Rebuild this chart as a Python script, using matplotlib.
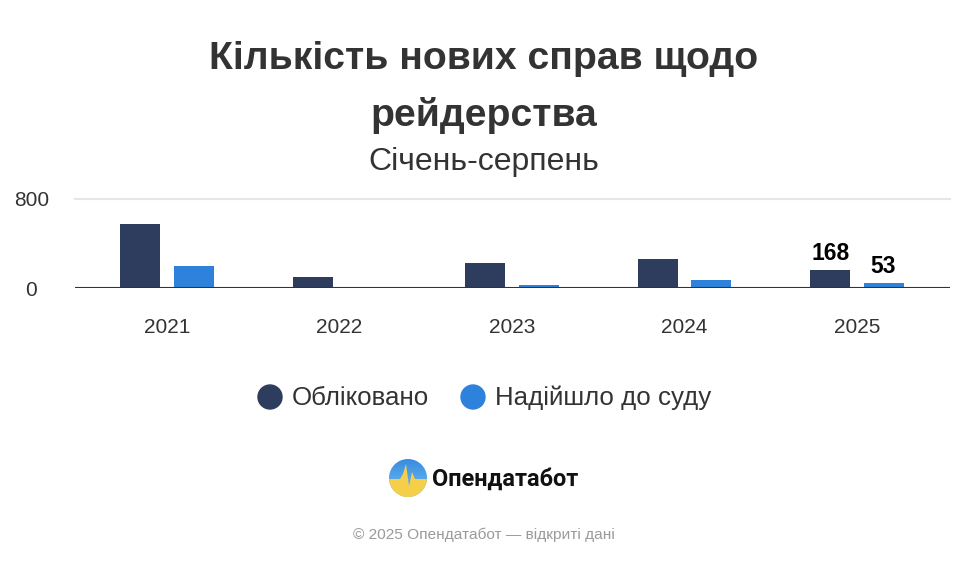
import numpy as np
import matplotlib.pyplot as plt
from matplotlib.patches import Circle, Polygon

plt.rcParams['font.family'] = ['Liberation Sans', 'DejaVu Sans']

years = ["2021", "2022", "2023", "2024", "2025"]
registered = [576, 104, 232, 265, 168]
to_court = [200, 0, 33, 78, 53]
series_names = ["Обліковано", "Надійшло до суду"]
colors = ["#2e3c5e", "#2e82dc"]
yticks = [0, 800]

W, H = 967, 564
fig = plt.figure(figsize=(W / 100, H / 100), dpi=100)

# plot area in pixels: x 75..950, zero at y=288.5, 800 at y=199
ax = fig.add_axes([75 / W, 1 - 288.5 / H, 875 / W, 89.5 / H])
x = np.arange(len(years))
bw, off = 0.232, 0.154
ax.bar(x - off, registered, bw, color=colors[0], zorder=3)
ax.bar(x + off, to_court, bw, color=colors[1], zorder=3)
ax.set_xlim(-0.533, 4.539)
ax.set_ylim(0, 800)
ax.set_yticks(yticks)
ax.set_yticklabels([str(v) for v in yticks], fontsize=15, color="#333333")
ax.set_xticks(x)
ax.set_xticklabels(years, fontsize=15, color="#333333")
ax.tick_params(axis="both", length=0)
ax.tick_params(axis="x", pad=21)
ax.tick_params(axis="y", pad=31.5)
for lab in ax.get_yticklabels():
    lab.set_horizontalalignment("center")
ax.axhline(800, color="#e6e6e6", lw=1.5, zorder=1, clip_on=False)
ax.axhline(0, color="#333333", lw=1.5, zorder=4)
for s in ax.spines.values():
    s.set_visible(False)

# value labels for the last year
ax.text(x[-1] - off, registered[-1] + 45, str(registered[-1]), ha="center", va="bottom",
        fontsize=16.5, fontweight="bold", color="black")
ax.text(x[-1] + off, to_court[-1] + 45, str(to_court[-1]), ha="center", va="bottom",
        fontsize=16.5, fontweight="bold", color="black")

# titles
fig.text(484 / W, 1 - 59 / H, "Кількість нових справ щодо", ha="center", va="center",
         fontsize=28.2, fontweight="bold", color="#333333")
fig.text(484 / W, 1 - 115 / H, "рейдерства", ha="center", va="center",
         fontsize=28.2, fontweight="bold", color="#333333")
fig.text(484 / W, 1 - 162 / H, "Січень-серпень", ha="center", va="center",
         fontsize=23, color="#333333")

# legend
lax = fig.add_axes([0, 0, 1, 1])
lax.set_xlim(0, W)
lax.set_ylim(H, 0)
lax.axis("off")
leg_x = [270, 473]
for cx, c, name in zip(leg_x, colors, series_names):
    lax.add_patch(Circle((cx, 397), 12, color=c))
    lax.text(cx + 22, 398, name, ha="left", va="center", fontsize=18.6, color="#333333")

# logo: blue sky over a yellow field with a pulse-shaped edge
cx, cy, r = 408, 478, 19
clip = Circle((cx, cy), r, transform=lax.transData)
n = 60
grad = np.linspace(0, 1, n)[:, None] * np.ones((1, n))
top = np.array([0.22, 0.55, 0.88])
bot = np.array([0.45, 0.75, 0.95])
img = top[None, None, :] * (1 - grad[..., None]) + bot[None, None, :] * grad[..., None]
im = lax.imshow(img, extent=(cx - r, cx + r, cy + r, cy - r), zorder=2)
im.set_clip_path(clip)
px = [cx - r, cx - 8, cx - 5, cx - 2, cx + 1, cx + 4, cx + 7, cx + r]
py = [cy + 1, cy + 1, cy - 4, cy - 14, cy + 8, cy - 6, cy + 1, cy + 1]
field = Polygon(list(zip(px, py)) + [(cx + r, cy + r), (cx - r, cy + r)],
                closed=True, facecolor="#f6cf4a", edgecolor="none", zorder=3)
lax.add_patch(field)
field.set_clip_path(Circle((cx, cy), r, transform=lax.transData))
lax.text(432, 479, "Опендатабот", ha="left", va="center", fontsize=16.9,
         fontweight="bold", color="#111111", family=["Roboto", "DejaVu Sans"])

fig.text(484 / W, 1 - 535 / H, "© 2025 Опендатабот — відкриті дані", ha="center",
         va="center", fontsize=11.1, color="#9a9a9a")

fig.savefig("out.png", dpi=100)
